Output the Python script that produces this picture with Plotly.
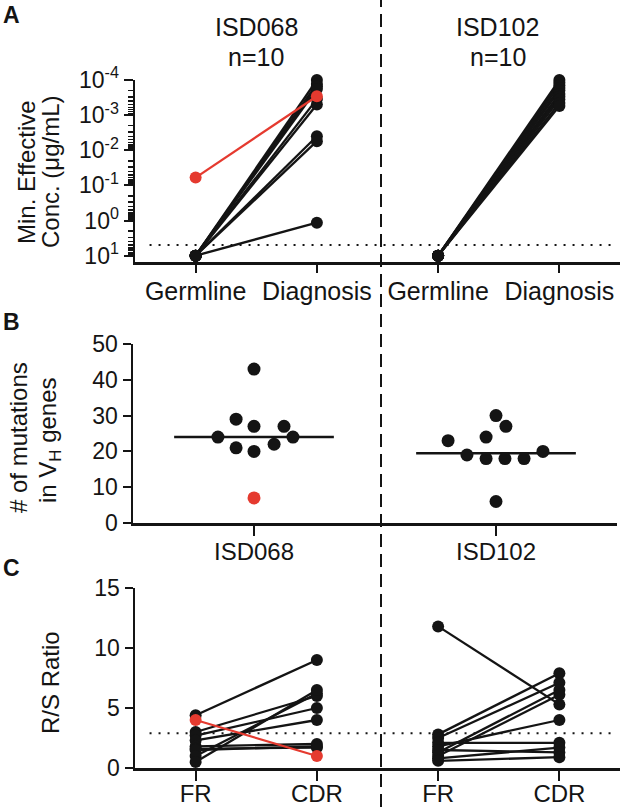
import numpy as np
import plotly.graph_objects as go

# ---------------- data ----------------
a_categories = ["Germline", "Diagnosis", "Germline", "Diagnosis"]
a_groups = ["ISD068", "ISD102"]
a_n_labels = ["n=10", "n=10"]
a_ytick_vals = [1e-4, 1e-3, 1e-2, 1e-1, 1, 10]
a_ytick_text = ["10<sup>-4</sup>", "10<sup>-3</sup>", "10<sup>-2</sup>",
                "10<sup>-1</sup>", "10<sup>0</sup>", "10<sup>1</sup>"]
a_detection_limit = 5

isd068_germline = [10, 10, 10, 10, 10, 10, 10, 10, 10, 0.06]
isd068_diagnosis = [1.0e-4, 1.3e-4, 1.5e-4, 1.8e-4, 3.5e-4, 5.0e-4, 4.0e-3, 5.5e-3, 1.15, 2.9e-4]
isd068_highlight = [False, False, False, False, False, False, False, False, False, True]

isd102_germline = [10, 10, 10, 10, 10, 10, 10, 10, 10, 10]
isd102_diagnosis = [1.0e-4, 1.2e-4, 1.4e-4, 1.7e-4, 2.0e-4, 2.5e-4, 3.0e-4, 3.6e-4, 4.5e-4, 5.5e-4]

b_groups = ["ISD068", "ISD102"]
b_mut_068 = [43, 29, 27, 27, 24, 24, 21, 20, 22, 7]
b_mut_068_highlight = [False, False, False, False, False, False, False, False, False, True]
b_mut_102 = [30, 27, 24, 23, 20, 19, 18, 18, 18, 6]

c_categories = ["FR", "CDR", "FR", "CDR"]
c_threshold = 2.9
c_fr_068 = [4.4, 4.0, 3.0, 2.7, 2.3, 1.8, 1.6, 1.5, 1.0, 0.5]
c_cdr_068 = [9.0, 1.0, 6.0, 5.0, 4.0, 2.0, 1.7, 1.8, 6.2, 6.5]
c_068_highlight = [False, True, False, False, False, False, False, False, False, False]
c_fr_102 = [11.8, 2.8, 2.5, 1.3, 1.0, 1.8, 2.1, 0.8, 1.5, 0.6]
c_cdr_102 = [5.3, 7.9, 7.1, 6.5, 6.1, 4.0, 2.1, 1.7, 1.3, 0.9]

# beeswarm layout offsets (positions, not data)
b_swarm_068 = [0, -0.074, 0, 0.124, -0.149, 0.161, -0.074, 0, 0.083, 0]
b_swarm_102 = [0, 0.041, -0.041, -0.198, 0.194, -0.12, -0.041, 0.037, 0.116, 0]

# ---------------- style ----------------
W, H = 625, 807
BLACK = "#141414"
RED = "#e53a2f"
FONT = "Liberation Sans, Arial, sans-serif"
MS = 12


def px(x):
    return x / W


def py(y):
    return 1 - y / H


fig = go.Figure()


def paired(xa, xb, ya, yb, hl, xaxis, yaxis):
    for want_red in (False, True):
        xs, ys = [], []
        for a, b, h in zip(ya, yb, hl):
            if h == want_red:
                xs += [xa, xb, None]
                ys += [a, b, None]
        if not xs:
            continue
        c = RED if want_red else BLACK
        fig.add_trace(go.Scatter(x=xs, y=ys, mode="lines+markers", xaxis=xaxis, yaxis=yaxis,
                                 line=dict(color=c, width=2.3),
                                 marker=dict(color=c, size=MS, line=dict(width=0)),
                                 cliponaxis=False, showlegend=False, hoverinfo="skip"))


# Panel A
fig.add_trace(go.Scatter(x=[-0.38, 3.46], y=[a_detection_limit, a_detection_limit], mode="lines",
                         xaxis="x", yaxis="y", line=dict(color=BLACK, width=2, dash="2px,7px"),
                         showlegend=False, hoverinfo="skip"))
paired(0, 1, isd068_germline, isd068_diagnosis, isd068_highlight, "x", "y")
paired(2, 3, isd102_germline, isd102_diagnosis, [False] * len(isd102_germline), "x", "y")

# Panel B
for gi, (vals, offs) in enumerate([(b_mut_068, b_swarm_068), (b_mut_102, b_swarm_102)]):
    med = float(np.median(vals))
    fig.add_trace(go.Scatter(x=[gi - 0.33, gi + 0.33], y=[med, med], mode="lines",
                             xaxis="x2", yaxis="y2", line=dict(color=BLACK, width=2.5),
                             showlegend=False, hoverinfo="skip"))
    hl = b_mut_068_highlight if gi == 0 else [False] * len(vals)
    cols = [RED if h else BLACK for h in hl]
    fig.add_trace(go.Scatter(x=[gi + o for o in offs], y=vals, mode="markers",
                             xaxis="x2", yaxis="y2",
                             marker=dict(color=cols, size=MS + 1, line=dict(width=0)),
                             cliponaxis=False, showlegend=False, hoverinfo="skip"))

# Panel C
fig.add_trace(go.Scatter(x=[-0.38, 3.46], y=[c_threshold, c_threshold], mode="lines",
                         xaxis="x3", yaxis="y3", line=dict(color=BLACK, width=2, dash="2px,7px"),
                         showlegend=False, hoverinfo="skip"))
paired(0, 1, c_fr_068, c_cdr_068, c_068_highlight, "x3", "y3")
paired(2, 3, c_fr_102, c_cdr_102, [False] * len(c_fr_102), "x3", "y3")

axis_common = dict(showline=True, linecolor=BLACK, linewidth=2.5, showgrid=False, zeroline=False,
                   ticks="outside", tickcolor=BLACK, tickwidth=2, ticklen=8, automargin=False,
                   tickfont=dict(family=FONT, size=24, color=BLACK))

a_minor_vals = [k * 10.0 ** e for e in range(-4, 1) for k in range(2, 10)]

dom_x_ac = [px(135), px(620)]
fig.update_layout(
    width=W, height=H, margin=dict(l=0, r=0, t=0, b=0, autoexpand=False),
    paper_bgcolor="white", plot_bgcolor="white", showlegend=False,
    xaxis=dict(axis_common, domain=dom_x_ac, range=[-0.5, 3.5], tickvals=[0, 1, 2, 3],
               ticktext=a_categories, anchor="y", ticklabelstandoff=-3,
               tickfont=dict(family=FONT, size=25, color=BLACK)),
    yaxis=dict(axis_common, domain=[py(262), py(80)], type="log", range=[1.18, -4],
               tickvals=a_ytick_vals, ticktext=a_ytick_text, anchor="x", ticklen=9,
               tickfont=dict(family=FONT, size=23, color=BLACK),
               minor=dict(ticks="outside", ticklen=5, tickwidth=1.5, tickcolor=BLACK,
                          tickmode="array", tickvals=a_minor_vals)),
    xaxis2=dict(axis_common, domain=[px(133), px(617)], range=[-0.5, 1.5], tickvals=[0, 1],
                ticktext=b_groups, anchor="y2", ticklen=10, ticklabelstandoff=-4),
    yaxis2=dict(axis_common, domain=[py(523), py(344)], range=[0, 50], dtick=10, anchor="x2",
                tickfont=dict(family=FONT, size=23, color=BLACK)),
    xaxis3=dict(axis_common, domain=dom_x_ac, range=[-0.5, 3.5], tickvals=[0, 1, 2, 3],
                ticktext=c_categories, anchor="y3", ticklen=10, ticklabelstandoff=-7),
    yaxis3=dict(axis_common, domain=[py(768), py(588)], range=[0, 15], tickvals=[0, 5, 10, 15],
                anchor="x3", tickfont=dict(family=FONT, size=23, color=BLACK)),
)

# vertical dashed separator
fig.add_shape(type="line", xref="paper", yref="paper", x0=px(381), x1=px(381), y0=0, y1=1,
              line=dict(color=BLACK, width=2, dash="13px,7px"), layer="above")

ann = []


def text(x, y, s, size=24, angle=0, bold=False):
    ann.append(dict(x=px(x), y=py(y), xref="paper", yref="paper", text=s, showarrow=False,
                    xanchor="center", yanchor="middle", textangle=angle,
                    font=dict(family=FONT, size=size, color=BLACK)))
    if bold:
        ann[-1]["text"] = "<b>" + s + "</b>"


text(12, 15, "A", 23, bold=True)
text(12, 322, "B", 23, bold=True)
text(12, 568, "C", 23, bold=True)
for cx, g, n in zip([256, 498], a_groups, a_n_labels):
    text(cx, 27, g, 25)
    text(cx, 57, n, 25)
text(27, 172, "Min. Effective", 24, angle=-90)
text(51, 172, "Conc. (μg/mL)", 24, angle=-90)
text(18, 438, "# of mutations", 24, angle=-90)
text(49, 440, "in V<sub>H</sub> genes", 24, angle=-90)
text(50, 683, "R/S Ratio", 24, angle=-90)
fig.update_layout(annotations=ann)

fig.write_html("out.html", config={"displayModeBar": False, "staticPlot": True},
               post_script="document.body.style.margin='0';document.body.style.overflow='hidden';")
